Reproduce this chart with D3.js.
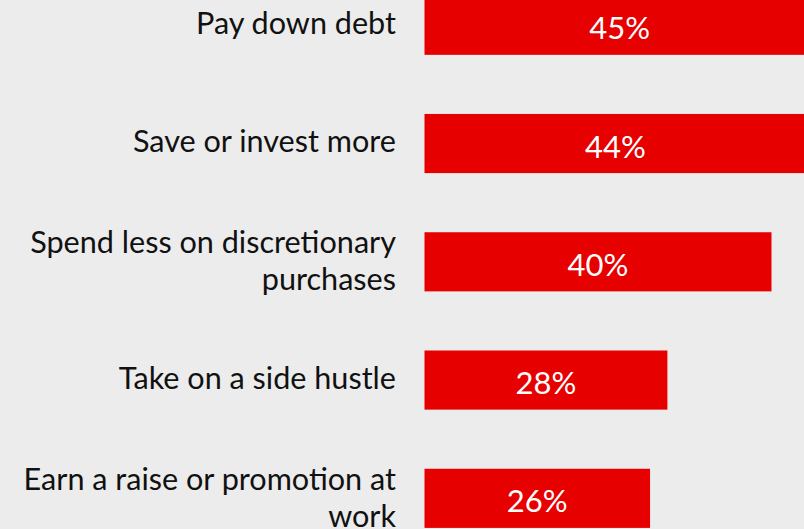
<!DOCTYPE html>
<html>
<head>
<meta charset="utf-8">
<script src="https://cdn.jsdelivr.net/npm/d3@7"></script>
<style>
  html, body { margin: 0; padding: 0; background: #ececec; overflow: hidden; }
  svg { display: block; }
</style>
</head>
<body>
<svg id="chart" width="804" height="529"></svg>
<script>
const categories = [
  ["Pay down debt"],
  ["Save or invest more"],
  ["Spend less on discretionary", "purchases"],
  ["Take on a side hustle"],
  ["Earn a raise or promotion at", "work"]
];
const values = [45, 44, 40, 28, 26];

const W = 804, H = 529;
const barLeft = 424.5;
const svg = d3.select("#chart");
svg.append("rect").attr("width", W).attr("height", H).attr("fill", "#ececec");

const keys = categories.map(c => c.join(" "));
const x = d3.scaleLinear().domain([0, 40]).range([0, 347]);
const y = d3.scaleBand().domain(keys).range([-4.3, 527.9]).paddingInner(0.5).paddingOuter(0);

const font = "Lato, 'Open Sans', sans-serif";
const g = svg.append("g");

// bars
g.selectAll("rect.bar").data(values).join("rect")
  .attr("class", "bar")
  .attr("x", barLeft)
  .attr("y", (d, i) => y(keys[i]))
  .attr("width", d => x(d))
  .attr("height", y.bandwidth())
  .attr("fill", "#e60000");

// value labels, centred in each bar
g.selectAll("text.val").data(values).join("text")
  .attr("class", "val")
  .attr("x", d => barLeft + x(d) / 2)
  .attr("y", (d, i) => y(keys[i]) + y.bandwidth() / 2 + 14)
  .attr("text-anchor", "middle")
  .attr("fill", "#ffffff")
  .style("font-family", font)
  .style("font-size", "31px")
  .text(d => d + "%");

// category labels, right-aligned left of the bars
const lineH = 37;
const labels = g.selectAll("text.lab").data(categories).join("text")
  .attr("class", "lab")
  .attr("text-anchor", "end")
  .attr("fill", "#111111")
  .style("font-family", font)
  .style("font-size", "30.6px");

labels.each(function(lines, i) {
  const cy = y(keys[i]) + y.bandwidth() / 2;
  const n = lines.length;
  const first = cy - (n - 1) * lineH / 2 + 8.5 + (n - 1) * 1.5;
  d3.select(this).selectAll("tspan").data(lines).join("tspan")
    .attr("x", 396)
    .attr("y", (d, j) => first + j * lineH)
    .text(d => d);
});
</script>
</body>
</html>
